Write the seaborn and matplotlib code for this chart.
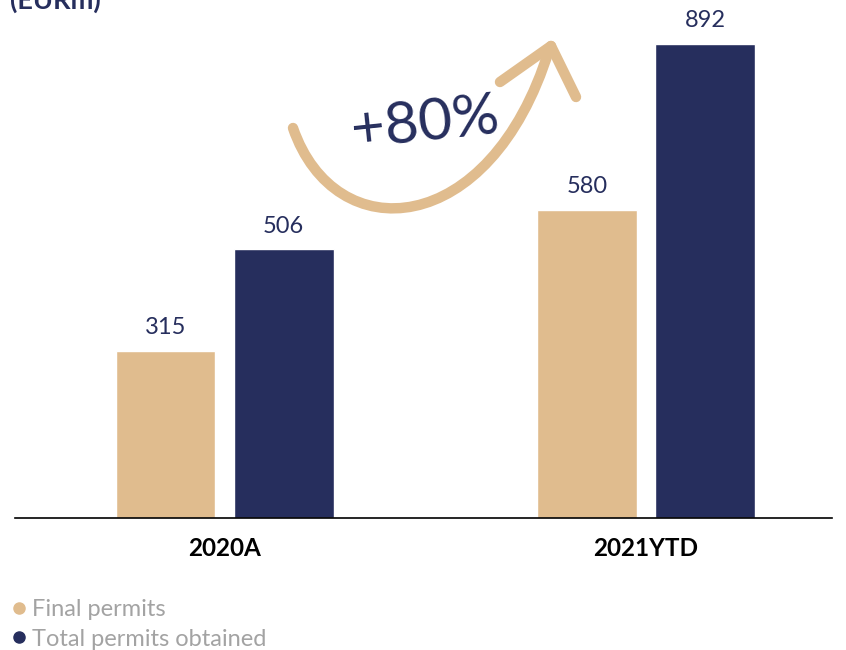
import matplotlib
matplotlib.use("Agg")
import matplotlib.pyplot as plt
from matplotlib.path import Path
from matplotlib.patches import PathPatch
from matplotlib.lines import Line2D
import seaborn as sns
import pandas as pd

periods = ["2020A", "2021YTD"]
series_names = ["Final permits", "Total permits obtained"]
final_permits = [315, 580]
total_permits = [506, 892]

TAN = "#E0BC8E"
NAVY = "#262E5D"
GREY = "#A3A3A3"

df = pd.DataFrame({
    "period": periods * 2,
    "series": [series_names[0]] * 2 + [series_names[1]] * 2,
    "value": final_permits + total_permits,
})

sns.set_theme(style="white")
plt.rcParams["font.family"] = ["Lato", "DejaVu Sans"]

W, H = 846, 650
fig = plt.figure(figsize=(W / 100, H / 100), dpi=100)
ax = fig.add_axes([15 / W, (H - 518) / H, (832 - 15) / W, 518 / H])

sns.barplot(data=df, x="period", y="value", hue="series", order=periods,
            hue_order=series_names, palette=[TAN, NAVY], width=0.56,
            gap=0.153, ax=ax, legend=False, saturation=1)

ax.set_xlim(-0.497, 1.441)
ax.set_ylim(0, 974.8)
ax.set_xlabel("")
ax.set_ylabel("")
ax.set_yticks([])
ax.tick_params(axis="x", length=0, pad=14, labelsize=17.5, labelcolor="black")
for lbl in ax.get_xticklabels():
    lbl.set_fontweight("bold")
for side in ["top", "left", "right"]:
    ax.spines[side].set_visible(False)
ax.spines["bottom"].set_color("black")
ax.spines["bottom"].set_linewidth(1.2)

for container in ax.containers:
    ax.bar_label(container, fmt="%d", padding=9, fontsize=17, color=NAVY)

# Title, partly above the top edge
fig.text(10 / W, 1 - 9 / H, "(EURm)", fontsize=19.5, fontweight="bold",
         color=NAVY, ha="left", va="baseline")

# Curved growth arrow in figure pixel space
def px(x, y):
    return (x, H - y)

verts = [px(293, 128), px(335, 250), px(490, 240), px(549, 50)]
codes = [Path.MOVETO, Path.CURVE4, Path.CURVE4, Path.CURVE4]
curve = PathPatch(Path(verts, codes), facecolor="none", edgecolor=TAN,
                  linewidth=7.5, capstyle="round", transform=None, zorder=5)
fig.add_artist(curve)
for end in [(500, 82), (576, 97)]:
    head = Line2D([px(551, 46)[0], px(*end)[0]], [px(551, 46)[1], px(*end)[1]],
                  color=TAN, linewidth=7.5, solid_capstyle="round",
                  transform=None, zorder=5)
    fig.add_artist(head)

fig.text(425 / W, 1 - 124 / H, "+80%", fontsize=42, fontweight="normal",
         color=NAVY, ha="center", va="center", rotation=6,
         family=["Lato", "DejaVu Sans"])

# Legend
handles = [Line2D([], [], marker="o", linestyle="", markersize=8,
                  markerfacecolor=c, markeredgecolor=c) for c in (TAN, NAVY)]
fig.legend(handles, series_names, loc="upper left",
           bbox_to_anchor=(4 / W, 1 - 590 / H), frameon=False,
           handlelength=0.5, handletextpad=0.3, labelspacing=0.35,
           fontsize=17, labelcolor=GREY, borderaxespad=0)

fig.savefig("out.png", dpi=100)
